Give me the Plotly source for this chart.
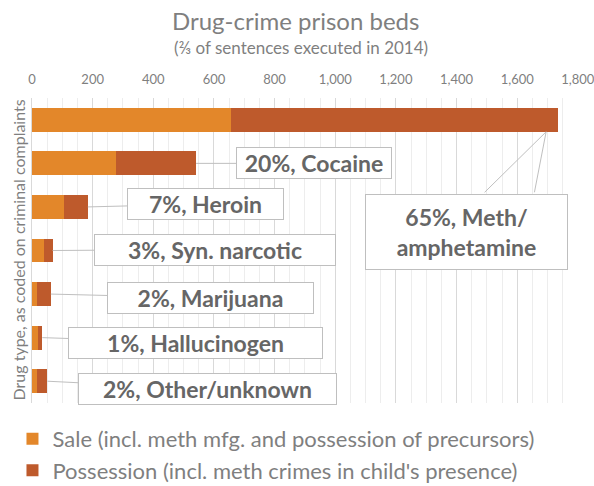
import plotly.graph_objects as go

categories = ["Meth/amphetamine", "Cocaine", "Heroin", "Syn. narcotic",
              "Marijuana", "Hallucinogen", "Other/unknown"]
sale = [655, 278, 106, 39, 18, 19, 15]
possession = [1080, 263, 78, 29, 44, 15, 36]
shares = ["65%", "20%", "7%", "3%", "2%", "1%", "2%"]
label_names = ["Meth/<br>amphetamine", "Cocaine", "Heroin", "Syn. narcotic",
               "Marijuana", "Hallucinogen", "Other/unknown"]
series_names = ["Sale (incl. meth mfg. and possession of precursors)",
                "Possession (incl. meth crimes in child's presence)"]
x_ticks = [0, 200, 400, 600, 800, 1000, 1200, 1400, 1600, 1800]

FONT = "Lato"
C_SALE = "#E3872A"
C_POSS = "#BE5A2C"
TXT = "#666666"
GREY = "#7F7F7F"
BOX = "#BFBFBF"

fig = go.Figure()
fig.add_trace(go.Bar(y=categories, x=sale, orientation="h", name=series_names[0],
                     marker=dict(color=C_SALE, line=dict(width=0)), legendgroup="a"))
fig.add_trace(go.Bar(y=categories, x=possession, orientation="h", name=series_names[1],
                     marker=dict(color=C_POSS, line=dict(width=0)), legendgroup="b"))

totals = [s + p for s, p in zip(sale, possession)]
# label box placement: (dx, dy) pixel offset of box centre from bar end, box text width
boxes = [None, (118, 0, 152), (118, -3, 153), (162, -1, 238), (160, 4, 203),
         (153, 5, 251), (160, 8, 255)]
for i in range(1, len(categories)):
    ax, ay, w = boxes[i]
    fig.add_annotation(x=totals[i], y=categories[i], ax=ax, ay=ay, width=w,
                       text=f"<b>{shares[i]}, {label_names[i]}</b>",
                       showarrow=True, arrowhead=0, arrowwidth=1, arrowcolor=BOX,
                       bgcolor="white", bordercolor=BOX, borderwidth=1, borderpad=1,
                       font=dict(family=FONT, size=23, color=TXT))

# Meth callout (wedge + box)
for tail in (-63, -12):
    fig.add_annotation(x=totals[0], y=categories[0], xshift=-12, yshift=-12,
                       ax=tail, ay=62, text="", showarrow=True, arrowhead=0,
                       arrowwidth=1, arrowcolor=BOX)
fig.add_annotation(x=totals[0], y=categories[0], xshift=-12, yshift=-12,
                   ax=-79.5, ay=100.5, text=f"<b>{shares[0]}, {label_names[0]}</b>",
                   showarrow=True, arrowcolor="rgba(0,0,0,0)", arrowwidth=0.1,
                   bgcolor="white", bordercolor=BOX, borderwidth=1,
                   borderpad=8, width=185, font=dict(family=FONT, size=23, color=TXT))

fig.update_layout(
    width=594, height=486,
    margin=dict(l=32, r=16, t=98, b=83, autoexpand=False),
    paper_bgcolor="white", plot_bgcolor="white",
    barmode="stack", bargap=0.45,
    font=dict(family=FONT, color=TXT),
    showlegend=True,
    legend=dict(orientation="v", xref="container", yref="container",
                x=0.021, y=0.14, xanchor="left", yanchor="top",
                font=dict(family=FONT, size=22, color=GREY),
                traceorder="grouped", tracegroupgap=0, itemwidth=30),
    annotations=list(fig.layout.annotations) + [
        dict(text="Drug-crime prison beds", xref="paper", yref="paper",
             x=0.482, y=1.2525, yanchor="middle", showarrow=False,
             font=dict(family=FONT, size=24, color=GREY)),
        dict(text="(⅔ of sentences executed in 2014)", xref="paper", yref="paper",
             x=0.493, y=1.167, yanchor="middle", showarrow=False,
             font=dict(family=FONT, size=17, color=GREY)),
        dict(text="Drug type, as coded on criminal complaints", xref="paper", yref="paper",
             x=0.0, y=0.5, xshift=-14, xanchor="center", yanchor="middle",
             showarrow=False, textangle=-90,
             font=dict(family=FONT, size=16, color=GREY)),
    ],
)
fig.update_xaxes(side="top", range=[0, 1800.5], tickvals=x_ticks, tickformat=",",
                 showgrid=True, gridcolor="#D9D9D9", gridwidth=1,
                 minor=dict(dtick=50, showgrid=True, gridcolor="#EDEDED"),
                 zeroline=False, showline=False, ticks="", ticklabelstandoff=10,
                 ticklabeloverflow="allow", automargin=False,
                 tickfont=dict(family=FONT, size=13, color=GREY))
fig.update_yaxes(autorange=False, range=[6.5, -0.5], showticklabels=False, showgrid=False,
                 showline=True, linecolor="#D9D9D9", linewidth=1, ticks="",
                 automargin=False)

fig.write_html("out.html", config={"displayModeBar": False},
               post_script="document.body.style.margin='0';")
